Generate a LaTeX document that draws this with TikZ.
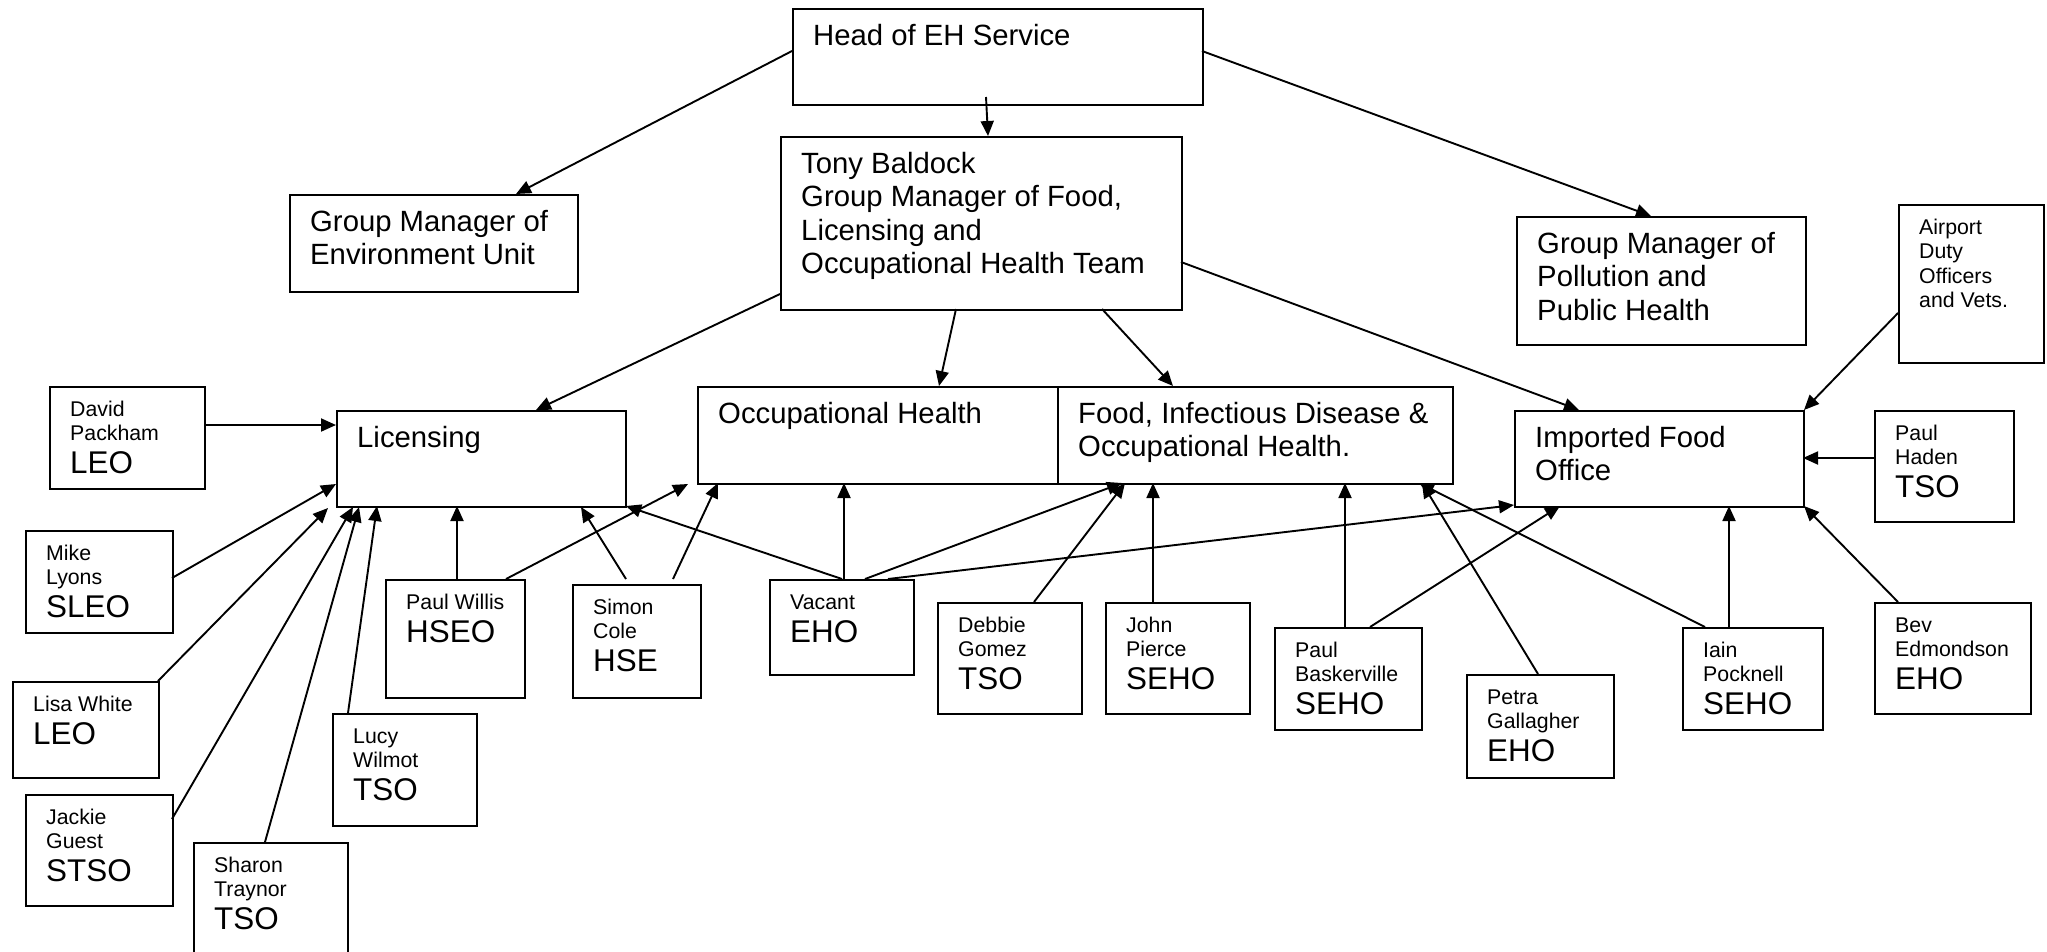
\documentclass[tikz,border=0pt]{standalone}
\usepackage{fontspec}
\setmainfont{Liberation Sans}
\usetikzlibrary{arrows.meta,calc}
\tikzset{
  box/.style={draw, line width=2pt, inner sep=0pt, anchor=north west},
  bigt/.style={font=\fontsize{29.3}{33.5}\selectfont, anchor=base west, inner sep=0pt},
  namet/.style={font=\fontsize{21.3}{24.5}\selectfont, anchor=base west, inner sep=0pt},
  rolet/.style={font=\fontsize{31.4}{36}\selectfont, anchor=base west, inner sep=0pt},
  arr/.style={line width=1.9pt, -{Triangle[length=15pt,width=13pt]}}
}
\newcommand\orgbox[5]{\node[box, minimum width={(#4-#2)*1pt}, minimum height={(#5-#3)*1pt}] (#1) at (#2,#3) {};}
\newcommand\bigtext[2]{\foreach \l [count=\i] in {#2} {\node[bigt] (#1-t\i) at ($(#1.north west)+(21,{37+(\i-1)*33.5})$) {\l};}}
\newcommand\nametext[2]{\foreach \l [count=\i] in {#2} {\node[namet] (#1-n\i) at ($(#1.north west)+(21,{30+(\i-1)*24.5})$) {\l}; \xdef\nlines{\i}}}
\newcommand\roletext[2]{\node[rolet] (#1-r) at ($(#1.north west)+(21,{30+(\nlines-1)*24.5+33})$) {#2};}
\newcommand\conn[6]{\draw[arr] ($(#1.north west)+(#2,#3)$) -- ($(#4.north west)+(#5,#6)$);}
\begin{document}
\begin{tikzpicture}[x=1pt,y=-1pt]
\useasboundingbox (0,0) rectangle (2047,951);
% managers
\orgbox{head}{792}{8}{1202}{104}
\bigtext{head}{Head of EH Service}
\orgbox{tony}{780}{136}{1181}{309}
\bigtext{tony}{Tony Baldock,{Group Manager of Food,},Licensing and,Occupational Health Team}
\orgbox{env}{289}{194}{577}{291}
\bigtext{env}{Group Manager of,Environment Unit}
\orgbox{poll}{1516}{216}{1805}{344}
\bigtext{poll}{Group Manager of,Pollution and,Public Health}
\orgbox{air}{1898}{204}{2043}{362}
\nametext{air}{Airport,Duty,Officers,and Vets.}
% sections
\orgbox{lic}{336}{410}{625}{506}
\bigtext{lic}{Licensing}
\orgbox{occ}{697}{386}{1057}{483}
\bigtext{occ}{Occupational Health}
\orgbox{food}{1057}{386}{1452}{483}
\bigtext{food}{{Food, Infectious Disease \&},Occupational Health.}
\orgbox{imp}{1514}{410}{1803}{506}
\bigtext{imp}{Imported Food,Office}
% staff
\orgbox{david}{49}{386}{204}{488}
\nametext{david}{David,Packham}\roletext{david}{LEO}
\orgbox{mike}{25}{530}{172}{632}
\nametext{mike}{Mike,Lyons}\roletext{mike}{SLEO}
\orgbox{lisa}{12}{681}{158}{777}
\nametext{lisa}{Lisa White}\roletext{lisa}{LEO}
\orgbox{jackie}{25}{794}{172}{905}
\nametext{jackie}{Jackie,Guest}\roletext{jackie}{STSO}
\orgbox{sharon}{193}{842}{347}{975}
\nametext{sharon}{Sharon,Traynor}\roletext{sharon}{TSO}
\orgbox{lucy}{332}{713}{476}{825}
\nametext{lucy}{Lucy,Wilmot}\roletext{lucy}{TSO}
\orgbox{willis}{385}{579}{524}{697}
\nametext{willis}{Paul Willis}\roletext{willis}{HSEO}
\orgbox{simon}{572}{584}{700}{697}
\nametext{simon}{Simon,Cole}\roletext{simon}{HSE}
\orgbox{vacant}{769}{579}{913}{674}
\nametext{vacant}{Vacant}\roletext{vacant}{EHO}
\orgbox{debbie}{937}{602}{1081}{713}
\nametext{debbie}{Debbie,Gomez}\roletext{debbie}{TSO}
\orgbox{john}{1105}{602}{1249}{713}
\nametext{john}{John,Pierce}\roletext{john}{SEHO}
\orgbox{bask}{1274}{627}{1421}{729}
\nametext{bask}{Paul,Baskerville}\roletext{bask}{SEHO}
\orgbox{petra}{1466}{674}{1613}{777}
\nametext{petra}{Petra,Gallagher}\roletext{petra}{EHO}
\orgbox{iain}{1682}{627}{1822}{729}
\nametext{iain}{Iain,Pocknell}\roletext{iain}{SEHO}
\orgbox{haden}{1874}{410}{2013}{521}
\nametext{haden}{Paul,Haden}\roletext{haden}{TSO}
\orgbox{bev}{1874}{602}{2030}{713}
\nametext{bev}{Bev,Edmondson}\roletext{bev}{EHO}
% connectors
\conn{head}{0}{43}{env}{227}{0}
\conn{head}{194}{89}{tony}{208}{0}
\conn{head}{410}{43}{poll}{135}{0}
\conn{tony}{0}{158}{lic}{200}{0}
\conn{tony}{176}{173}{occ}{242}{0}
\conn{tony}{322}{173}{food}{116}{0}
\conn{tony}{401}{126}{imp}{65}{0}
\conn{air}{0}{109}{imp}{290}{0}
\conn{haden}{0}{48}{imp}{289}{48}
\conn{bev}{24}{0}{imp}{290}{96}
\conn{iain}{47}{0}{imp}{215}{96}
\conn{iain}{23}{0}{food}{362}{97}
\conn{petra}{72}{0}{food}{365}{97}
\conn{bask}{71}{0}{food}{288}{97}
\conn{bask}{96}{0}{imp}{46}{96}
\conn{john}{48}{0}{food}{96}{97}
\conn{debbie}{97}{0}{food}{68}{97}
\conn{vacant}{96}{0}{food}{65}{97}
\conn{vacant}{119}{0}{imp}{0}{95}
\conn{vacant}{75}{0}{occ}{147}{97}
\conn{vacant}{73}{0}{lic}{290}{96}
\conn{simon}{54}{-5}{lic}{245}{97}
\conn{simon}{101}{-5}{occ}{21}{97}
\conn{willis}{72}{0}{lic}{121}{96}
\conn{willis}{121}{0}{occ}{-9}{98}
\conn{lucy}{16}{0}{lic}{41}{96}
\conn{sharon}{72}{0}{lic}{23}{97}
\conn{jackie}{147}{25}{lic}{17}{97}
\conn{lisa}{146}{0}{lic}{-8}{98}
\conn{mike}{147}{48}{lic}{0}{74}
\conn{david}{155}{39}{lic}{0}{15}
\end{tikzpicture}
\end{document}
